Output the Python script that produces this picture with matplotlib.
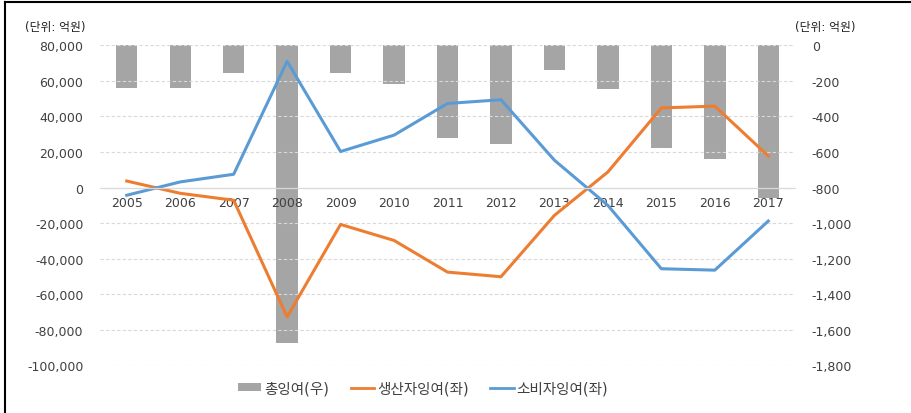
import numpy as np
import matplotlib.pyplot as plt
from matplotlib.lines import Line2D
from matplotlib.patches import Patch

plt.rcParams['font.family'] = ['DejaVu Sans', 'Noto Sans CJK KR']

years = ['2005', '2006', '2007', '2008', '2009', '2010', '2011',
         '2012', '2013', '2014', '2015', '2016', '2017']
# 총잉여 (right axis, 억원)
total = [-240, -240, -155, -1675, -158, -220, -520,
         -555, -137, -245, -580, -640, -860]
# 생산자잉여 (left axis, 억원)
producer = [3700, -3200, -7100, -72700, -20700, -29700, -47500,
            -50100, -15600, 8800, 44800, 45800, 17800]
# 소비자잉여 (left axis, 억원)
consumer = [-4300, 3200, 7500, 71000, 20300, 29500, 47300,
            49400, 15400, -10000, -45600, -46400, -18800]

left_ticks = np.arange(-100000, 80001, 20000)
right_ticks = np.arange(-1800, 1, 200)

GRAY = '#A5A5A5'
ORANGE = '#ED7D31'
BLUE = '#5B9BD5'
TXT = '#404040'

fig = plt.figure(figsize=(9.11, 4.14), dpi=100)
ax = fig.add_axes([100 / 911, 1 - 366.5 / 414, 695 / 911, 320.2 / 414])
ax2 = ax.twinx()

x = np.arange(len(years))

# bars on the secondary axis, lines drawn above them
ax2.bar(x, total, width=0.4, color=GRAY, zorder=2)
ax.set_zorder(ax2.get_zorder() + 1)
ax.patch.set_visible(False)

ax.plot(x, producer, color=ORANGE, lw=2.2, solid_joinstyle='round')
ax.plot(x, consumer, color=BLUE, lw=2.2, solid_joinstyle='round')

ax.set_xlim(-0.5, len(years) - 0.5)
ax.set_ylim(-100000, 80000)
ax2.set_ylim(-1800, 0)

ax.set_yticks(left_ticks)
ax.set_yticklabels([f'{v:,}' for v in left_ticks])
ax2.set_yticks(right_ticks)
ax2.set_yticklabels([f'{v:,}' for v in right_ticks])

# dashed gridlines, solid line at zero
for v in left_ticks:
    if v != 0:
        ax.axhline(v, color='#D9D9D9', lw=0.8, ls=(0, (3, 2)), zorder=0)

for a in (ax, ax2):
    for s in ('top', 'right', 'left', 'bottom'):
        a.spines[s].set_visible(False)

ax.spines['bottom'].set_visible(True)
ax.spines['bottom'].set_position(('data', 0))
ax.spines['bottom'].set_color('#D9D9D9')
ax.spines['bottom'].set_linewidth(0.9)

ax.set_xticks(x)
ax.set_xticklabels(years)
ax.tick_params(axis='x', length=0, pad=6, labelsize=9, labelcolor=TXT)
ax.tick_params(axis='y', length=0, pad=12, labelsize=9, labelcolor=TXT)
ax2.tick_params(axis='x', length=0)
ax2.yaxis.set_tick_params(length=0, pad=12, labelsize=9, labelcolor=TXT)

fig.text(25 / 911, 1 - 28 / 414, '(단위: 억원)', fontsize=8.5, color='#222222',
         ha='left', va='center')
fig.text(795 / 911, 1 - 28 / 414, '(단위: 억원)', fontsize=8.5, color='#222222',
         ha='left', va='center')

handles = [
    Patch(facecolor=GRAY, edgecolor='none'),
    Line2D([0], [0], color=ORANGE, lw=2),
    Line2D([0], [0], color=BLUE, lw=2),
]
fig.legend(handles, ['총잉여(우)', '생산자잉여(좌)', '소비자잉여(좌)'],
           loc='center', bbox_to_anchor=(423 / 911, 1 - 389 / 414),
           ncol=3, frameon=False, fontsize=10.5, handlelength=1.6,
           handleheight=0.5, handletextpad=0.2, columnspacing=1.5,
           labelcolor=TXT)

# outer frame (top and left edges)
fig.add_artist(Line2D([5 / 911, 1], [1 - 2.5 / 414, 1 - 2.5 / 414],
                      color='black', lw=1.5, transform=fig.transFigure))
fig.add_artist(Line2D([5 / 911, 5 / 911], [0, 1 - 2.5 / 414],
                      color='black', lw=1.5, transform=fig.transFigure))

fig.savefig('out.png', dpi=100)
